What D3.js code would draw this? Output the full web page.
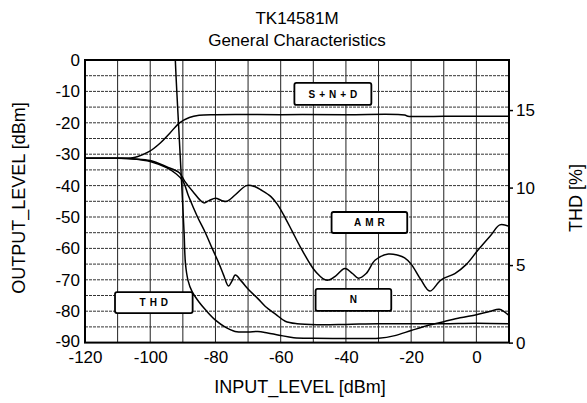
<!DOCTYPE html>
<html>
<head>
<meta charset="utf-8">
<script src="https://cdn.jsdelivr.net/npm/d3@7"></script>
<style>
  body { margin: 0; background: #fff; }
  text { font-family: "Liberation Sans", Arial, sans-serif; fill: #000; }
</style>
</head>
<body>
<svg id="chart" width="587" height="403"></svg>
<script>
// axis ticks
const xTicks = [-120, -100, -80, -60, -40, -20, 0];
const yTicks = [0, -10, -20, -30, -40, -50, -60, -70, -80, -90];
const thdTicks = [0, 5, 10, 15];

// curves: [input dBm, output dBm]
const sndData = [[-120, -31.3], [-110, -31.3], [-106, -31.2], [-104, -30.8], [-100.4, -29.2],
  [-97, -26.5], [-94, -23.3], [-91, -20], [-88, -18.3], [-85, -17.6], [-80, -17.4], [-60, -17.4],
  [-40, -17.4], [-22, -17.5], [-21, -17.9], [-10, -17.9], [10, -17.9]];

const amrData = [[-120, -31.3], [-110, -31.3], [-105, -31.5], [-100, -32], [-95, -34], [-91, -36],
  [-89.5, -38.5], [-87, -41.8], [-83.6, -45.5], [-82, -44.8], [-80, -44], [-78, -44.8], [-76.5, -45],
  [-74, -43], [-70.5, -40], [-68, -40.3], [-66, -41.4], [-63, -43.5], [-61, -46], [-58.5, -50.5],
  [-56.5, -54.5], [-54, -59.5], [-50, -66.5], [-48, -68.8], [-46.4, -70], [-45, -70], [-43.4, -69],
  [-40.3, -66.4], [-38, -68], [-36.2, -69.5], [-33.8, -68], [-31, -63.7], [-27, -61.8], [-24, -62.2],
  [-22, -63], [-20, -65], [-17, -70], [-14.3, -73.6], [-10.8, -70], [-6.6, -68], [-3, -65],
  [0.5, -60.5], [4.5, -55.7], [7.2, -52.5], [10, -53]];

const noiseData = [[-120, -31.3], [-110, -31.3], [-105, -31.5], [-100, -32.3], [-95, -34.3],
  [-92, -36.3], [-90, -38.5], [-88.2, -43.5], [-85.5, -50], [-83.1, -55], [-81, -60], [-79, -64.6],
  [-77.5, -68.5], [-76, -72], [-75, -70.5], [-73.9, -68.5], [-72, -70.5], [-69.8, -73.2], [-67, -76],
  [-64.7, -78.5], [-61.5, -81], [-58.6, -83.2], [-55, -84], [-48, -84.3], [-40, -84.2], [-30, -84],
  [-20, -84], [-10, -84], [0, -83.8], [10, -84]];

// THD on the right axis: [input dBm, %]
const thdData = [[-93, 23], [-92.3, 18.2], [-91.3, 14], [-90.3, 10], [-89.6, 7], [-89.2, 5.1],
  [-88.4, 4.0], [-87.2, 3.3], [-85, 2.6], [-83, 2.1], [-80, 1.45], [-77, 1.0], [-74, 0.72], [-70, 0.68],
  [-67, 0.72], [-64, 0.62], [-60.5, 0.48], [-56, 0.32], [-50, 0.28], [-40, 0.27], [-30, 0.28],
  [-25, 0.45], [-20, 0.78], [-15, 1.1], [-10, 1.35], [-5, 1.6], [0, 1.8], [4, 2.0], [7, 2.15],
  [8.5, 2.0], [10, 1.75]];

const curveNames = ["S+N+D", "AMR", "N", "THD"];

const margin = { top: 60, right: 78, bottom: 60.4, left: 85 };
const W = 587, H = 403;
const svg = d3.select("#chart");

const x = d3.scaleLinear().domain([-120, 10]).range([margin.left, W - margin.right]);
const y = d3.scaleLinear().domain([-90, 0]).range([H - margin.bottom, margin.top]);
const yThd = d3.scaleLinear().domain([0, 18.23]).range([H - margin.bottom, margin.top]);

// grid
const grid = svg.append("g");
grid.selectAll(".gx").data(d3.range(-110, 10, 10)).enter().append("line")
  .attr("x1", d => x(d)).attr("x2", d => x(d))
  .attr("y1", y(0)).attr("y2", y(-90))
  .attr("stroke", "#222").attr("stroke-width", 1);
grid.selectAll(".gy").data(d3.range(-85, 0, 5)).enter().append("line")
  .attr("x1", x(-120)).attr("x2", x(10))
  .attr("y1", d => y(d)).attr("y2", d => y(d))
  .attr("stroke", "#333").attr("stroke-width", 1).attr("stroke-dasharray", "3,1");

// axes
const fmt = d => String(d);
const ax = svg.append("g").attr("transform", `translate(0,${y(-90)})`)
  .call(d3.axisBottom(x).tickValues(xTicks).tickSize(0).tickPadding(8).tickFormat(fmt));
const ayl = svg.append("g").attr("transform", `translate(${x(-120)},0)`)
  .call(d3.axisLeft(y).tickValues(yTicks).tickSize(0).tickPadding(5).tickFormat(fmt));
const ayr = svg.append("g").attr("transform", `translate(${x(10)},0)`)
  .call(d3.axisRight(yThd).tickValues(thdTicks).tickSize(4).tickPadding(3).tickFormat(fmt));
[ax, ayl, ayr].forEach(g => {
  g.select(".domain").remove();
  g.selectAll("text").attr("font-size", 17).attr("font-family", "Liberation Sans, Arial, sans-serif");
  g.selectAll("line").attr("stroke", "#000").attr("stroke-width", 1.5);
});
// bottom-most left label sits a touch higher so it clears "-120"
ayl.selectAll(".tick").filter(d => d === -90).select("text").attr("dy", "0.2em");

// curves
svg.append("clipPath").attr("id", "plot").append("rect")
  .attr("x", x(-120)).attr("y", y(0)).attr("width", x(10) - x(-120)).attr("height", y(-90) - y(0));
const line = d3.line().x(d => x(d[0])).y(d => y(d[1])).curve(d3.curveCatmullRom.alpha(0.5));
const lineThd = d3.line().x(d => x(d[0])).y(d => yThd(d[1])).curve(d3.curveCatmullRom.alpha(0.5));
const curves = svg.append("g").attr("clip-path", "url(#plot)")
  .attr("fill", "none").attr("stroke", "#000").attr("stroke-width", 1.5);
[sndData, amrData, noiseData].forEach(s => curves.append("path").attr("d", line(s)));
curves.append("path").attr("d", lineThd(thdData));

// frame
svg.append("rect")
  .attr("x", x(-120)).attr("y", y(0)).attr("width", x(10) - x(-120)).attr("height", y(-90) - y(0))
  .attr("fill", "none").attr("stroke", "#000").attr("stroke-width", 2);

// label boxes, placed in data units
const boxSpots = {
  "S+N+D": [-55.8, -32.2, -7.3, -14.3],
  "AMR": [-44.4, -21.2, -48.4, -55.1],
  "N": [-49.3, -26.1, -72.9, -79.9],
  "THD": [-110.8, -87, -73.9, -80.6]
};
const boxes = svg.append("g").selectAll("g").data(curveNames).enter().append("g");
boxes.append("rect")
  .attr("x", d => x(boxSpots[d][0])).attr("y", d => y(boxSpots[d][2]))
  .attr("width", d => x(boxSpots[d][1]) - x(boxSpots[d][0]))
  .attr("height", d => y(boxSpots[d][3]) - y(boxSpots[d][2]))
  .attr("rx", 2).attr("fill", "#fff").attr("stroke", "#000").attr("stroke-width", 1.8);
boxes.append("text")
  .attr("x", d => (x(boxSpots[d][0]) + x(boxSpots[d][1])) / 2 + 2)
  .attr("y", d => (y(boxSpots[d][2]) + y(boxSpots[d][3])) / 2)
  .attr("dy", "0.36em").attr("text-anchor", "middle")
  .attr("font-size", 10).attr("font-weight", "bold").attr("letter-spacing", 4)
  .text(d => d);

// titles
svg.append("text").attr("x", 297).attr("y", 24).attr("text-anchor", "middle")
  .attr("font-size", 17).text("TK14581M");
svg.append("text").attr("x", 297).attr("y", 46).attr("text-anchor", "middle")
  .attr("font-size", 17).text("General Characteristics");
svg.append("text").attr("transform", "translate(25,198) rotate(-90)").attr("text-anchor", "middle")
  .attr("font-size", 18).text("OUTPUT_LEVEL [dBm]");
svg.append("text").attr("transform", "translate(582,198) rotate(-90)").attr("text-anchor", "middle")
  .attr("font-size", 18).text("THD [%]");
svg.append("text").attr("x", 300).attr("y", 393).attr("text-anchor", "middle")
  .attr("font-size", 18).text("INPUT_LEVEL [dBm]");
</script>
</body>
</html>
